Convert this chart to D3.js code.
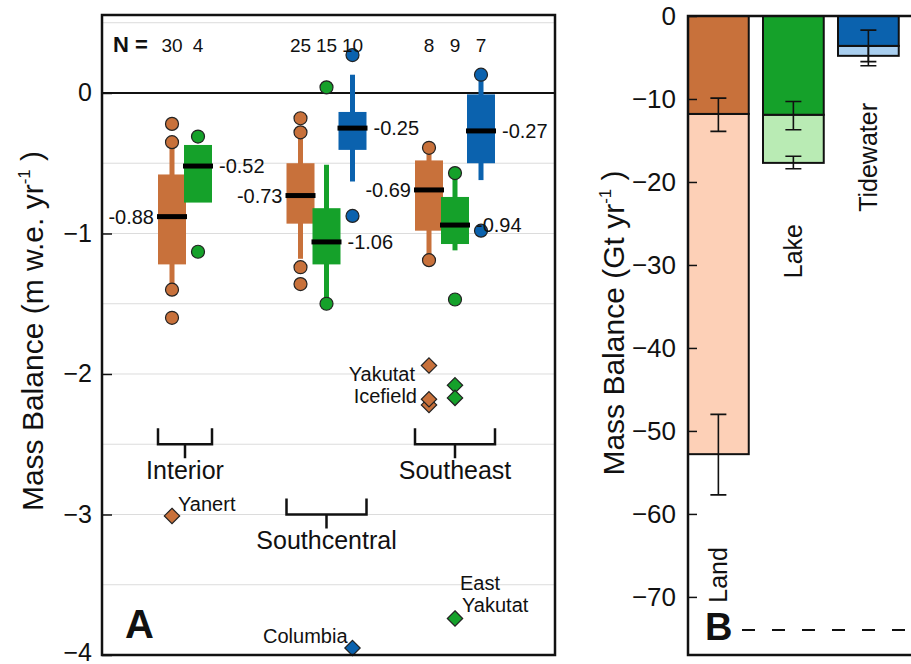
<!DOCTYPE html>
<html><head><meta charset="utf-8">
<script src="https://cdn.jsdelivr.net/npm/d3@7"></script>
<style>body{margin:0;background:#fff} svg text{font-family:"Liberation Sans",Arial,sans-serif;fill:#111}</style>
</head><body><svg id="c" width="911" height="664"></svg>
<script>
// ---------------- DATA ----------------
const regions = ["Interior", "Southcentral", "Southeast"];
const types = ["Land", "Lake", "Tidewater"];
// [region, type, N, whiskerLow, q1, median, q3, whiskerHigh]
const boxStats = [
  ["Interior", "Land", 30, -1.37, -1.22, -0.88, -0.58, -0.38],
  ["Interior", "Lake", 4, null, -0.78, -0.52, -0.37, null],
  ["Southcentral", "Land", 25, -1.18, -0.93, -0.73, -0.50, -0.31],
  ["Southcentral", "Lake", 15, -1.47, -1.22, -1.06, -0.82, -0.51],
  ["Southcentral", "Tidewater", 10, -0.63, -0.405, -0.25, -0.135, 0.13],
  ["Southeast", "Land", 8, -1.16, -0.98, -0.69, -0.48, -0.42],
  ["Southeast", "Lake", 9, -1.12, -1.075, -0.94, -0.74, -0.60],
  ["Southeast", "Tidewater", 7, -0.62, -0.50, -0.27, -0.01, 0.09]
];
// [region, type, value]
const outliers = [
  ["Interior", "Land", -0.22], ["Interior", "Land", -0.35], ["Interior", "Land", -1.40], ["Interior", "Land", -1.60],
  ["Interior", "Lake", -0.31], ["Interior", "Lake", -1.13],
  ["Southcentral", "Land", -0.18], ["Southcentral", "Land", -0.28], ["Southcentral", "Land", -1.24], ["Southcentral", "Land", -1.36],
  ["Southcentral", "Lake", 0.04], ["Southcentral", "Lake", -1.50],
  ["Southcentral", "Tidewater", 0.27], ["Southcentral", "Tidewater", -0.875],
  ["Southeast", "Land", -0.39], ["Southeast", "Land", -1.19],
  ["Southeast", "Lake", -0.57], ["Southeast", "Lake", -1.47],
  ["Southeast", "Tidewater", 0.13], ["Southeast", "Tidewater", -0.98]
];
// named glaciers: [region, type, value]
const glaciers = [
  ["Interior", "Land", -3.01],
  ["Southeast", "Land", -1.94], ["Southeast", "Land", -2.22], ["Southeast", "Land", -2.18],
  ["Southeast", "Lake", -2.08], ["Southeast", "Lake", -2.17],
  ["Southcentral", "Tidewater", -3.95],
  ["Southeast", "Lake", -3.74]
];
// [lines, region, type, value]
const glacierLabels = [
  [["Yanert"], "Interior", "Land", -3.01],
  [["Yakutat", "Icefield"], "Southeast", "Land", -2.18],
  [["Columbia"], "Southcentral", "Tidewater", -3.95],
  [["East", "Yakutat"], "Southeast", "Lake", -3.74]
];
const tickA = [0, -1, -2, -3, -4];
const gridA = [0.5, -0.5, -1, -1.5, -2, -2.5, -3, -3.5];

// Panel B
const barTypes = ["Land", "Lake", "Tidewater"];
const barUpper = [-11.8, -11.9, -3.6];
const barTotal = [-52.8, -17.7, -4.8];
const upperErr = [[-9.9, -13.9], [-10.3, -13.7], [-1.7, -5.5]];
const totalErr = [[-48.0, -57.7], [-16.9, -18.4], [-3.6, -6.0]];
const tickB = [0, -10, -20, -30, -40, -50, -60, -70];
const refLineB = -74;

// ---------------- STYLE ----------------
const dark = {Land: "#c8713b", Lake: "#15a12a", Tidewater: "#0b62ae"};
const light = {Land: "#fdd0b7", Lake: "#b9ebb4", Tidewater: "#a9cff0"};

const svg = d3.select("#c");

// ---------------- PANEL A ----------------
const A = {l: 102, r: 555, t: 15, b: 655};
const yA = d3.scaleLinear().domain([-4, 0.555]).range([A.b, A.t]);
const xRegion = d3.scalePoint().domain(regions).range([198, 455]);
const xType = d3.scalePoint().domain(types).range([-26, 26]);
const xs = (r, t) => xRegion(r) + xType(t);
const bw = 28;
const fmtMed = v => v.toFixed(2);   // hyphen-minus, as in the reference

const gA = svg.append("g");
gA.selectAll("line.grid").data(gridA).join("line")
  .attr("x1", A.l).attr("x2", A.r).attr("y1", d => yA(d)).attr("y2", d => yA(d))
  .attr("stroke", "#dcdcdc").attr("stroke-width", 1);
gA.append("line").attr("x1", A.l).attr("x2", A.r).attr("y1", yA(0)).attr("y2", yA(0))
  .attr("stroke", "#111").attr("stroke-width", 2);

// whiskers
boxStats.filter(d => d[3] !== null).forEach(d => {
  const x = xs(d[0], d[1]);
  gA.append("line").attr("x1", x).attr("x2", x).attr("y1", yA(d[3])).attr("y2", yA(d[7]))
    .attr("stroke", dark[d[1]]).attr("stroke-width", 5);
});
// boxes
gA.selectAll("rect.box").data(boxStats).join("rect")
  .attr("x", d => xs(d[0], d[1]) - bw / 2).attr("width", bw)
  .attr("y", d => yA(d[6])).attr("height", d => yA(d[4]) - yA(d[6]))
  .attr("fill", d => dark[d[1]]);
// medians
gA.selectAll("line.med").data(boxStats).join("line")
  .attr("x1", d => xs(d[0], d[1]) - bw / 2 - 1).attr("x2", d => xs(d[0], d[1]) + bw / 2 + 1)
  .attr("y1", d => yA(d[5])).attr("y2", d => yA(d[5]))
  .attr("stroke", "#000").attr("stroke-width", 5);
// outlier circles
gA.selectAll("circle.out").data(outliers).join("circle")
  .attr("cx", d => xs(d[0], d[1])).attr("cy", d => yA(d[2])).attr("r", 6.5)
  .attr("fill", d => dark[d[1]]).attr("stroke", "#222").attr("stroke-width", 1.2);
// median labels
gA.selectAll("text.medl").data(boxStats).join("text")
  .attr("x", d => d[1] === "Land" ? xs(d[0], d[1]) - bw / 2 - 4 : xs(d[0], d[1]) + bw / 2 + 7)
  .attr("y", d => yA(d[5])).attr("dy", "0.36em")
  .attr("text-anchor", d => d[1] === "Land" ? "end" : "start")
  .attr("font-size", 20).text(d => fmtMed(d[5]));
// N labels
gA.append("text").attr("x", 113).attr("y", 52).attr("font-size", 22).attr("font-weight", "bold").text("N =");
gA.selectAll("text.n").data(boxStats).join("text")
  .attr("x", d => xs(d[0], d[1])).attr("y", 52).attr("text-anchor", "middle")
  .attr("font-size", 19).text(d => d[2]);
// diamonds
const diamond = d3.symbol().type(d3.symbolDiamond2).size(150);
gA.selectAll("path.gl").data(glaciers).join("path")
  .attr("d", diamond)
  .attr("transform", d => `translate(${xs(d[0], d[1])},${yA(d[2])})`)
  .attr("fill", d => dark[d[1]]).attr("stroke", "#222").attr("stroke-width", 1.2);
// glacier labels
const glOff = {
  "Yanert": {dx: 6, dy: -5, anchor: "start"},
  "Yakutat": {dx: -14, dy: -18, anchor: "end"},
  "Columbia": {dx: -5, dy: -5, anchor: "end"},
  "East": {dx: 5, dy: -28, anchor: "start"}
};
glacierLabels.forEach(d => {
  const o = glOff[d[0][0]];
  const t = gA.append("text").attr("font-size", 20).attr("text-anchor", o.anchor);
  d[0].forEach((line, i) => {
    t.append("tspan").attr("x", xs(d[1], d[2]) + o.dx + i * 2)
      .attr("y", yA(d[3]) + o.dy + i * 22).text(line);
  });
});
// region brackets
const bracketLevel = {Interior: -2.5, Southcentral: -3.0, Southeast: -2.5};
regions.forEach(r => {
  const xsR = boxStats.filter(d => d[0] === r).map(d => xs(d[0], d[1]));
  const x0 = d3.min(xsR) - bw / 2, x1 = d3.max(xsR) + bw / 2, xm = (x0 + x1) / 2;
  const y = yA(bracketLevel[r]);
  gA.append("path").attr("d", `M${x0},${y - 16}V${y}H${x1}V${y - 16}M${xm},${y}V${y + 14}`)
    .attr("fill", "none").attr("stroke", "#111").attr("stroke-width", 2.5);
  gA.append("text").attr("x", xm).attr("y", y + 35).attr("text-anchor", "middle")
    .attr("font-size", 25).text(r);
});
// axis
const axA = gA.append("g").attr("transform", `translate(${A.l},0)`)
  .call(d3.axisLeft(yA).tickValues(tickA).tickSize(-10).tickPadding(10).tickFormat(d3.format("d")));
axA.select(".domain").remove();
axA.selectAll(".tick line").attr("stroke", "#111").attr("stroke-width", 1.5);
axA.selectAll(".tick text").attr("font-size", 25).attr("font-family", "Liberation Sans, Arial, sans-serif").attr("fill", "#111");
axA.selectAll(".tick text").filter(d => d === -4).attr("dy", "0.2em");
gA.append("rect").attr("x", A.l).attr("y", A.t).attr("width", A.r - A.l).attr("height", A.b - A.t)
  .attr("fill", "none").attr("stroke", "#111").attr("stroke-width", 2.5);
gA.append("text").attr("x", 125).attr("y", 638).attr("font-size", 40).attr("font-weight", "bold").text("A");
// y label A
const ylA = gA.append("text").attr("transform", "translate(32,331) rotate(-90)")
  .attr("text-anchor", "middle").attr("dy", "0.35em").attr("font-size", 30);
ylA.append("tspan").text("Mass Balance (m w.e. yr");
ylA.append("tspan").attr("font-size", 17).attr("dy", "-0.75em").text("-1");
ylA.append("tspan").attr("dy", "0.42em").text(" )");

// ---------------- PANEL B ----------------
const B = {l: 688, r: 913, t: 16, b: 655};
const yB = d3.scaleLinear().domain([-77, 0]).range([B.b, B.t]);
const xB = d3.scaleBand().domain(barTypes).range([B.l, B.l + 210.75]).paddingInner(0.19).paddingOuter(0);
const gB = svg.append("g");
// lower (light) segments
gB.selectAll("rect.lo").data(barTypes).join("rect")
  .attr("x", d => xB(d)).attr("width", xB.bandwidth())
  .attr("y", (d, i) => yB(barUpper[i])).attr("height", (d, i) => yB(barTotal[i]) - yB(barUpper[i]))
  .attr("fill", d => light[d]).attr("stroke", "#111").attr("stroke-width", 2);
gB.selectAll("rect.up").data(barTypes).join("rect")
  .attr("x", d => xB(d)).attr("width", xB.bandwidth())
  .attr("y", yB(0)).attr("height", (d, i) => yB(barUpper[i]) - yB(0))
  .attr("fill", d => dark[d]).attr("stroke", "#111").attr("stroke-width", 2);
// error bars
function errBar(errs) {
  errs.forEach((e, i) => {
    const x = xB(barTypes[i]) + xB.bandwidth() / 2;
    gB.append("path").attr("d", `M${x},${yB(e[0])}V${yB(e[1])}M${x - 8},${yB(e[0])}H${x + 8}M${x - 8},${yB(e[1])}H${x + 8}`)
      .attr("fill", "none").attr("stroke", "#111").attr("stroke-width", 1.6);
  });
}
errBar(upperErr);
errBar(totalErr);
// bar labels (rotated)
const barLabelAt = [-70.7, -31.6, -23.6];
gB.selectAll("text.bl").data(barTypes).join("text")
  .attr("transform", (d, i) => `translate(${xB(d) + xB.bandwidth() / 2},${yB(barLabelAt[i])}) rotate(-90)`)
  .attr("dy", "0.35em").attr("font-size", 25).text(d => d);
// dashed reference line
gB.append("line").attr("x1", 742).attr("x2", 911).attr("y1", yB(refLineB)).attr("y2", yB(refLineB))
  .attr("stroke", "#111").attr("stroke-width", 2).attr("stroke-dasharray", "13,17");
// axis
const axB = gB.append("g").attr("transform", `translate(${B.l},0)`)
  .call(d3.axisLeft(yB).tickValues(tickB).tickSize(-9).tickPadding(12).tickFormat(d3.format("d")));
axB.select(".domain").remove();
axB.selectAll(".tick line").attr("stroke", "#111").attr("stroke-width", 1.5);
axB.selectAll(".tick text").attr("font-size", 26).attr("font-family", "Liberation Sans, Arial, sans-serif").attr("fill", "#111");
gB.append("path").attr("d", `M${B.r},${yB(0)}H${B.l}V${B.b}H${B.r}`)
  .attr("fill", "none").attr("stroke", "#111").attr("stroke-width", 2.5);
gB.append("text").attr("x", 705).attr("y", 640).attr("font-size", 38).attr("font-weight", "bold").text("B");
const ylB = gB.append("text").attr("transform", "translate(613,323) rotate(-90)")
  .attr("text-anchor", "middle").attr("dy", "0.35em").attr("font-size", 30);
ylB.append("tspan").text("Mass Balance (Gt yr");
ylB.append("tspan").attr("font-size", 17).attr("dy", "-0.75em").text("-1");
ylB.append("tspan").attr("dy", "0.42em").text(" )");
</script></body></html>
